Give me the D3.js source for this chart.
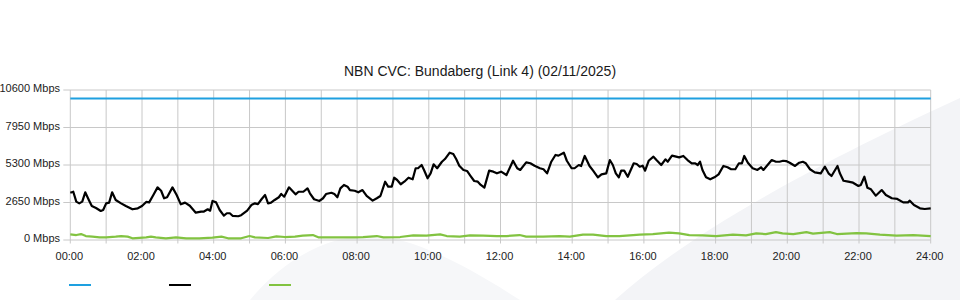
<!DOCTYPE html>
<html><head><meta charset="utf-8">
<script src="https://cdn.jsdelivr.net/npm/d3@7"></script>
<style>
body{margin:0;background:#fff;}
svg{display:block;font-family:"Liberation Sans",Arial,sans-serif;}
</style>
</head><body>
<svg id="c" width="960" height="300"></svg>
<script>
const chartTitle = "NBN CVC: Bundaberg (Link 4) (02/11/2025)";
const yTickValues = [0, 2650, 5300, 7950, 10600];
const yTickLabels = ["0 Mbps", "2650 Mbps", "5300 Mbps", "7950 Mbps", "10600 Mbps"];
const xGridHours = [0,1,2,3,4,5,6,7,8,9,10,11,12,13,14,15,16,17,18,19,20,21,22,23,24];
const xLabelHours = [0,2,4,6,8,10,12,14,16,18,20,22,24];
const xLabels = ["00:00","02:00","04:00","06:00","08:00","10:00","12:00","14:00","16:00","18:00","20:00","22:00","24:00"];

// capacity (blue)
const capMinutes = [0, 1440];
const capMbps = [10000, 10000];

// traffic (black)
const trafMinutes = [0,5,10,15,20,25,31,36,43,51,55,60,65,70,76,85,93,104,113,120,127,132,139,146,152,157,162,171,178,185,192,200,210,219,223,230,234,238,
244,250,257,262,267,272,281,286,296,303,309,314,320,326,331,336,342,349,353,358,366,377,382,390,397,401,408,417,423,428,437,442,447,452,458,464,468,476,
482,489,496,506,513,519,527,532,538,542,547,553,559,566,573,578,582,588,592,598,603,608,614,622,627,635,641,646,651,658,664,670,676,682,687,693,701,708,714,
721,730,741,748,753,763,770,777,786,792,798,805,812,817,826,831,839,844,851,855,861,869,875,883,889,897,903,908,913,918,922,927,933,943,948,953,
958,962,968,976,981,989,996,1000,1007,1014,1019,1026,1033,1040,1046,1050,1054,1058,1064,1071,1078,1085,1093,1100,1106,1113,1119,1124,1128,1134,1142,1150,1156,1160,1167,1174,1181,1187,1193,
1198,1204,1213,1220,1226,1231,1238,1246,1256,1263,1269,1274,1284,1288,1294,1302,1310,1319,1323,1329,1334,1340,1348,1358,1365,1375,1384,1394,1402,1405,1412,1422,1430,1440];
const trafMbps = [3340,3410,2710,2590,2710,3370,2830,2400,2260,2050,2120,2590,2640,3370,2830,2590,2400,2170,2240,2400,2690,2660,3180,3720,3480,2950,3020,3720,3180,2520,2640,2420,1930,2000,2000,2170,2070,2760,
2660,2120,1720,1890,1890,1700,1680,1750,2070,2470,2590,2540,2880,3180,2590,2640,2830,3020,3250,3060,3720,3230,3410,3410,3650,3300,2880,2760,2950,3250,3340,3250,3020,3650,3890,3770,3530,3480,
3370,3530,3110,2780,2950,3110,4120,3770,3770,4400,4240,3940,4120,4400,4290,5070,5070,5300,4950,4360,4710,5350,5070,5530,5720,6170,6080,5700,5250,4950,4880,4520,4170,4120,3890,3700,4900,4830,4710,
4830,4590,5600,5070,4950,5490,5420,5250,5070,5000,4710,5530,6010,5960,6170,5600,5070,5070,5300,5230,5940,5230,4900,4430,4640,4710,5650,5300,4710,4430,4900,4900,4470,5420,5370,5180,
5250,4900,5600,5890,5650,5300,5700,5530,5960,5890,5840,5940,5650,5420,5420,5300,5530,4950,4430,4290,4430,4640,5230,5140,5000,5000,5420,5420,5940,5460,5070,4950,5140,4950,5300,5650,5530,5530,5600,
5580,5460,5230,5460,5530,5420,5000,4780,4710,5180,4710,4520,5230,4710,4190,4120,4050,3820,3890,4470,3700,3580,3130,3530,3180,2950,2900,2660,2660,2780,2470,2240,2190,2240];

// second traffic series (green)
const grnMinutes = [0,10,18,26,37,49,60,76,85,96,104,127,135,143,160,177,194,216,238,253,264,286,300,309,331,345,359,376,389,406,415,454,476,490,513,524,552,574,596,619,630,652,669,691,714,
730,752,763,791,819,836,858,875,897,919,942,953,975,1002,1019,1036,1058,1081,1109,1131,1148,1164,1181,1192,1210,1232,1243,1271,1283,1316,1332,1355,1383,1411,1440];
const grnMbps = [400,350,420,280,240,190,190,240,280,240,120,190,240,190,120,190,120,120,165,240,120,120,280,190,140,260,210,240,310,350,190,190,190,210,280,190,210,330,310,400,280,240,330,310,280,
280,350,240,240,280,240,380,380,280,280,350,380,420,520,470,350,330,280,380,330,470,420,560,470,420,560,450,560,420,490,470,380,310,350,280];

const svg = d3.select("#c");
const x = d3.scaleLinear().domain([0, 1440]).range([70.3, 930.7]);
const y = d3.scaleLinear().domain([0, 10600]).range([240, 90]);

// background decoration
const deco = svg.append("g");
deco.append("path")
  .attr("d", "M 615 300 C 670 250, 770 185, 960 98 L 960 300 Z")
  .attr("fill", "#f3f4f7");
deco.append("path")
  .attr("d", "M 250 300 C 290 252, 335 236, 368 236 C 405 236, 450 255, 520 300 Z")
  .attr("fill", "#f6f7f9");

// title
svg.append("text").attr("x", 480).attr("y", 76).attr("text-anchor", "middle")
  .attr("font-size", 14).attr("fill", "#1a1a1a").text(chartTitle);

const grid = svg.append("g").attr("stroke", "#c8c8c8").attr("stroke-width", 1).attr("fill", "none");
grid.selectAll("line.v").data(xGridHours).join("line").attr("class", "v")
  .attr("x1", d => x(d * 60)).attr("x2", d => x(d * 60))
  .attr("y1", y(10600)).attr("y2", y(0) + 3.5);
grid.selectAll("line.h").data(yTickValues).join("line").attr("class", "h")
  .attr("x1", x(0) - 7).attr("x2", x(1440))
  .attr("y1", d => y(d)).attr("y2", d => y(d));

// y labels
svg.append("g").selectAll("text").data(yTickValues).join("text")
  .attr("x", 60).attr("y", d => y(d) + 2).attr("text-anchor", "end")
  .attr("font-size", 11).attr("fill", "#222")
  .text((d, i) => yTickLabels[i]);

// x labels
svg.append("g").selectAll("text").data(xLabelHours).join("text")
  .attr("x", d => x(d * 60) - 1).attr("y", 260).attr("text-anchor", "middle")
  .attr("font-size", 11).attr("fill", "#222")
  .text((d, i) => xLabels[i]);

const line = d3.line().x(d => x(d[0])).y(d => y(d[1]));
const zip = (a, b) => a.map((v, i) => [v, b[i]]);

svg.append("path").datum(zip(grnMinutes, grnMbps)).attr("d", line)
  .attr("fill", "none").attr("stroke", "#82c341").attr("stroke-width", 2.2).attr("stroke-linejoin", "round");
svg.append("path").datum(zip(trafMinutes, trafMbps)).attr("d", line)
  .attr("fill", "none").attr("stroke", "#000").attr("stroke-width", 2.2).attr("stroke-linejoin", "round");
svg.append("path").datum(zip(capMinutes, capMbps)).attr("d", line)
  .attr("fill", "none").attr("stroke", "#1ea0e0").attr("stroke-width", 2);

// legend (swatches only)
const legendColors = ["#1ea0e0", "#000", "#82c341"];
svg.append("g").selectAll("line").data(legendColors).join("line")
  .attr("x1", (d, i) => 69 + i * 100).attr("x2", (d, i) => 91 + i * 100)
  .attr("y1", 285).attr("y2", 285)
  .attr("stroke", d => d).attr("stroke-width", 2);
</script>
</body></html>
